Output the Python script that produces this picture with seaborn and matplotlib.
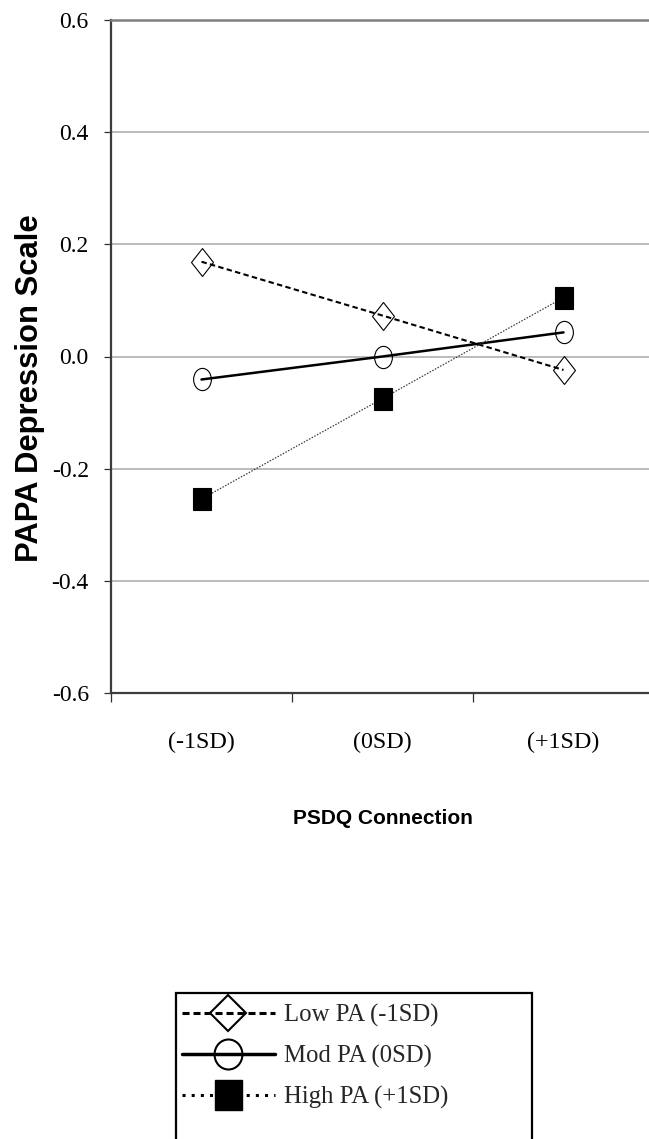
import numpy as np
import pandas as pd
import matplotlib
matplotlib.use("Agg")
import matplotlib.pyplot as plt
from matplotlib.markers import MarkerStyle
from matplotlib.transforms import Affine2D
from matplotlib.lines import Line2D
from matplotlib.patches import Rectangle
from matplotlib.ticker import FormatStrFormatter
import seaborn as sns

# ---- data -------------------------------------------------------------
categories = ["(-1SD)", "(0SD)", "(+1SD)"]
low_pa = [0.169, 0.073, -0.024]
mod_pa = [-0.041, 0.000, 0.043]
high_pa = [-0.254, -0.075, 0.105]
series_names = ["Low PA (-1SD)", "Mod PA (0SD)", "High PA (+1SD)"]
y_ticks = [-0.6, -0.4, -0.2, 0.0, 0.2, 0.4, 0.6]
x_label = "PSDQ Connection"
y_label = "PAPA Depression Scale"

df = pd.DataFrame({
    "pos": list(range(len(categories))) * 3,
    "depression": low_pa + mod_pa + high_pa,
    "group": np.repeat(series_names, len(categories)),
})

# ---- style --------------------------------------------------------------
sns.set_theme(style="white")
plt.rcParams["font.family"] = ["Liberation Serif", "DejaVu Serif"]
plt.rcParams["axes.unicode_minus"] = False

W, H = 649, 1139
fig = plt.figure(figsize=(W / 100, H / 100), dpi=100)
fig.patch.set_facecolor("white")

left_px, right_px, top_px, bottom_px = 111, 654, 20, 693
ax = fig.add_axes([left_px / W, 1 - bottom_px / H,
                   (right_px - left_px) / W, (bottom_px - top_px) / H])
ax.set_facecolor("white")


def squeezed(m, sx):
    return MarkerStyle(m, transform=Affine2D().scale(sx, 1.0))


plot_styles = {
    "Low PA (-1SD)": dict(marker=squeezed("D", 0.78), markersize=14.2,
                          markerfacecolor="none", markeredgecolor="black",
                          markeredgewidth=0.8, color="black", linewidth=1.5,
                          linestyle=(0, (2.6, 1.6))),
    "Mod PA (0SD)": dict(marker=squeezed("o", 0.8), markersize=16,
                         markerfacecolor="none", markeredgecolor="black",
                         markeredgewidth=0.8, color="black", linewidth=1.8,
                         linestyle="-"),
    "High PA (+1SD)": dict(marker=squeezed("s", 0.82), markersize=15.5,
                           markerfacecolor="black", markeredgecolor="black",
                           markeredgewidth=0.8, color="#3a3a3a", linewidth=0.9,
                           linestyle=(0, (1.2, 1.2))),
}

for name in series_names:
    sns.lineplot(data=df[df["group"] == name], x="pos", y="depression",
                 ax=ax, legend=False, errorbar=None, zorder=3,
                 **plot_styles[name])

# ---- axes ---------------------------------------------------------------
ax.set_xlim(-0.5, 2.5)
ax.set_ylim(-0.6, 0.6)
ax.set_yticks(y_ticks)
ax.yaxis.set_major_formatter(FormatStrFormatter("%.1f"))
ax.set_xticks(range(len(categories)))
ax.set_xticklabels(categories)
ax.set_xticks([-0.5, 0.5, 1.5, 2.5], minor=True)

ax.tick_params(axis="x", which="major", length=0, pad=28, labelsize=17.3,
               labelcolor="black")
ax.tick_params(axis="x", which="minor", direction="out", length=6.5,
               width=0.9, color="#303030", bottom=True)
ax.tick_params(axis="y", which="major", direction="out", length=5,
               width=0.9, color="#303030", pad=11, labelsize=17,
               labelcolor="black", left=True)

ax.yaxis.grid(True, color="#a8a8a8", linewidth=1.1)
ax.xaxis.grid(False)
ax.set_axisbelow(True)

for side in ["left", "bottom"]:
    ax.spines[side].set_color("#3c3c3c")
    ax.spines[side].set_linewidth(1.6)
ax.spines["top"].set_color("#7f7f7f")
ax.spines["top"].set_linewidth(1.8)
ax.spines["right"].set_visible(False)

ax.set_xlabel(x_label, fontfamily="Liberation Sans", fontweight="bold",
              fontsize=15, color="black")
ax.xaxis.set_label_coords(0.5, (bottom_px - 809) / (bottom_px - top_px))
ax.set_ylabel(y_label, fontfamily="Liberation Sans", fontweight="bold",
              fontsize=22.3, color="black")
ax.yaxis.set_label_coords((45 - left_px) / (right_px - left_px),
                          (bottom_px - 388) / (bottom_px - top_px))

# ---- legend box ---------------------------------------------------------
legend_handles = [
    Line2D([], [], color="black", linewidth=2.2, linestyle=(0, (2.3, 1.3)),
           marker="D", markersize=18.3, markerfacecolor="none",
           markeredgecolor="black", markeredgewidth=1.5),
    Line2D([], [], color="black", linewidth=2.5, linestyle="-",
           marker=squeezed("o", 0.93), markersize=21.6,
           markerfacecolor="none", markeredgecolor="black",
           markeredgewidth=1.5),
    Line2D([], [], color="black", linewidth=2.2, linestyle=(0, (1, 2)),
           marker=squeezed("s", 0.9), markersize=21.6,
           markerfacecolor="black", markeredgecolor="black",
           markeredgewidth=1.0),
]
fig.legend(legend_handles, series_names, loc="upper left",
           bbox_to_anchor=(182 / W, 1 - 1004 / H),
           frameon=False, handlelength=3.75,
           handletextpad=0.38, labelspacing=0.72, borderpad=0,
           borderaxespad=0, prop={"family": "Liberation Serif", "size": 17.8})

box_left, box_right, box_top = 176, 532, 993
fig.add_artist(Rectangle((box_left / W, -0.05), (box_right - box_left) / W,
                         (1 - box_top / H) + 0.05, transform=fig.transFigure,
                         fill=False, edgecolor="black", linewidth=1.6,
                         clip_on=False))

fig.savefig("out.png", dpi=100, facecolor="white")
